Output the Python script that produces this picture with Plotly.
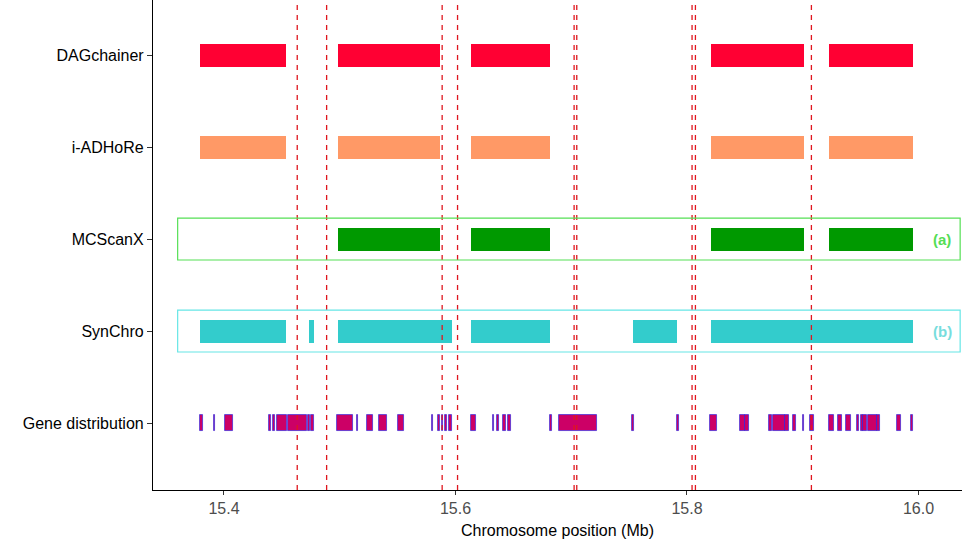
import plotly.graph_objects as go

# Category rows (top to bottom)
categories = ["DAGchainer", "i-ADHoRe", "MCScanX", "SynChro", "Gene distribution"]
cat_pos = [5, 4, 3, 2, 1]

# Synteny blocks (Mb): starts / ends per tool
dag_start = [15.3793, 15.4984, 15.6133, 15.8205, 15.9225]
dag_end = [15.4535, 15.5865, 15.6815, 15.9009, 15.9950]
iadh_start = [15.3793, 15.4984, 15.6133, 15.8205, 15.9225]
iadh_end = [15.4535, 15.5865, 15.6815, 15.9009, 15.9950]
mcs_start = [15.4984, 15.6133, 15.8205, 15.9225]
mcs_end = [15.5865, 15.6815, 15.9009, 15.9950]
syn_start = [15.3793, 15.4734, 15.4984, 15.6133, 15.7532, 15.8205]
syn_end = [15.4535, 15.4777, 15.5969, 15.6815, 15.7912, 15.9950]

# Genes (Mb)
gene_start = [15.3793, 15.3914, 15.4006, 15.4391, 15.4426, 15.4461, 15.4553, 15.4728,
              15.4756, 15.4979, 15.5147, 15.5238, 15.5337, 15.5503, 15.5795, 15.5846,
              15.5881, 15.5912, 15.5947, 15.6134, 15.6322, 15.6356, 15.6413, 15.6456,
              15.6817, 15.6897, 15.7528, 15.7911, 15.8199, 15.8458, 15.8501, 15.8709,
              15.8744, 15.8848, 15.8919, 15.9000, 15.9063, 15.9226, 15.9307, 15.9374,
              15.9467, 15.9501, 15.9524, 15.9567, 15.9640, 15.9812, 15.9936]
gene_end = [15.3816, 15.3922, 15.4075, 15.4403, 15.4443, 15.4542, 15.4715, 15.4743,
            15.4778, 15.5117, 15.5160, 15.5285, 15.5406, 15.5555, 15.5808, 15.5866,
            15.5895, 15.5929, 15.5967, 15.6177, 15.6335, 15.6373, 15.6436, 15.6477,
            15.6834, 15.7225, 15.7545, 15.7928, 15.8262, 15.8501, 15.8536, 15.8735,
            15.8848, 15.8884, 15.8940, 15.9014, 15.9098, 15.9270, 15.9340, 15.9417,
            15.9484, 15.9518, 15.9558, 15.9640, 15.9668, 15.9847, 15.9950]

# Breakpoint dashed lines (Mb)
breakpoints = [15.4633, 15.4887, 15.5885, 15.6018, 15.7025, 15.7048, 15.8044, 15.8073, 15.9075]

x_ticks = [15.4, 15.6, 15.8, 16.0]
x_tick_labels = ["15.4", "15.6", "15.8", "16.0"]

tool_colors = ["#FF0033", "#FF9966", "#009900", "#33CCCC"]

fig = go.Figure()

tool_data = [(dag_start, dag_end), (iadh_start, iadh_end), (mcs_start, mcs_end), (syn_start, syn_end)]
for i, (st, en) in enumerate(tool_data):
    fig.add_trace(go.Bar(
        orientation="h",
        base=st,
        x=[e - s for s, e in zip(st, en)],
        y=[cat_pos[i]] * len(st),
        width=0.25,
        marker=dict(color=tool_colors[i], line=dict(width=0)),
        showlegend=False,
        hoverinfo="skip",
    ))

fig.add_trace(go.Bar(
    orientation="h",
    base=gene_start,
    x=[e - s for s, e in zip(gene_start, gene_end)],
    y=[cat_pos[4]] * len(gene_start),
    width=0.18,
    marker=dict(color="#CC0066", line=dict(color="rgba(30,30,230,0.7)", width=0.9)),
    showlegend=False,
    hoverinfo="skip",
))

shapes = []
for bp in breakpoints:
    shapes.append(dict(type="line", xref="x", yref="paper", x0=bp, x1=bp, y0=0, y1=1,
                       line=dict(color="#E0161E", width=1.3, dash="5px,5px"), layer="above"))

shapes.append(dict(type="rect", xref="x", yref="y", x0=15.360, x1=16.036, y0=2.772, y1=3.228,
                   line=dict(color="#55E055", width=1.2), fillcolor="rgba(0,0,0,0)", layer="above"))
shapes.append(dict(type="rect", xref="x", yref="y", x0=15.360, x1=16.036, y0=1.772, y1=2.228,
                   line=dict(color="#66E6E6", width=1.2), fillcolor="rgba(0,0,0,0)", layer="above"))

annotations = [
    dict(x=16.0204, y=3, xref="x", yref="y", text="<b>(a)</b>", showarrow=False,
         font=dict(color="#55DD55", size=15, family="Liberation Sans")),
    dict(x=16.0204, y=2, xref="x", yref="y", text="<b>(b)</b>", showarrow=False,
         font=dict(color="#77DDDD", size=15, family="Liberation Sans")),
]

fig.update_layout(
    width=962, height=544,
    margin=dict(l=153, r=0, t=0, b=54),
    plot_bgcolor="white", paper_bgcolor="white",
    barmode="overlay",
    bargap=0,
    shapes=shapes,
    annotations=annotations,
    font=dict(family="Liberation Sans, Arial, sans-serif", color="black"),
    xaxis=dict(
        range=[15.3387, 16.0376],
        tickvals=x_ticks, ticktext=x_tick_labels,
        showgrid=False, zeroline=False,
        showline=True, linecolor="black", linewidth=1.2,
        ticks="outside", ticklen=4, tickcolor="#333333", tickwidth=1,
        tickfont=dict(size=16, color="#4D4D4D"),
        title=dict(text="Chromosome position (Mb)", font=dict(size=16, color="black"), standoff=8),
    ),
    yaxis=dict(
        range=[0.272, 5.598],
        tickvals=cat_pos, ticktext=categories,
        showgrid=False, zeroline=False,
        showline=True, linecolor="black", linewidth=1.2,
        ticks="outside", ticklen=5, tickcolor="#333333", tickwidth=1,
        tickfont=dict(size=16, color="black"),
    ),
)

fig.write_html("out.html", config={"displayModeBar": False},
               post_script="document.body.style.margin='0';")
